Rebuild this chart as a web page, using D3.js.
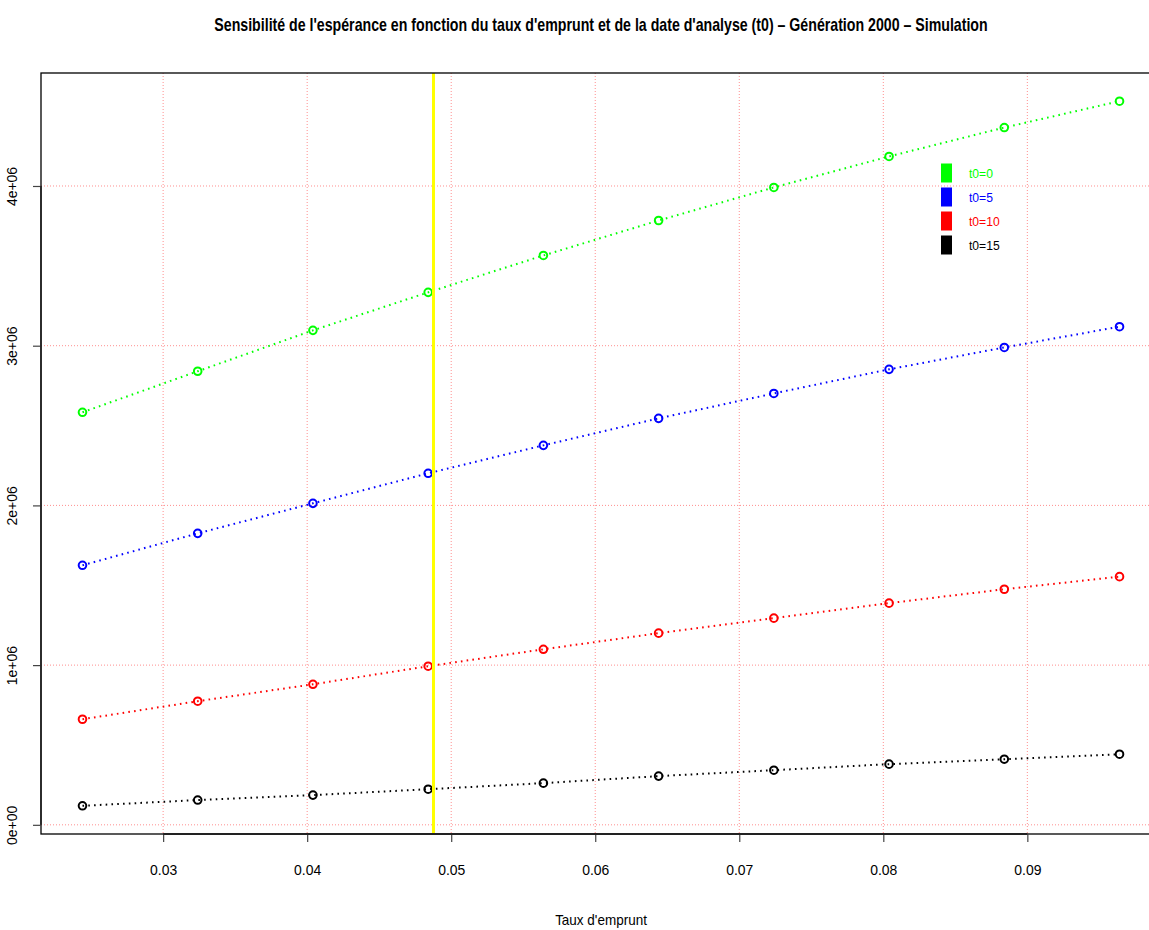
<!DOCTYPE html>
<html><head><meta charset="utf-8">
<script src="https://cdn.jsdelivr.net/npm/d3@7"></script>
<style>
html,body{margin:0;padding:0;background:#fff;}
svg{display:block;}
text{font-family:"Liberation Sans Narrow","Arial Narrow","Liberation Sans",Arial,sans-serif;}
</style></head>
<body>
<svg id="chart" width="1149" height="930"></svg>
<script>
// ---- data ----
const rates = [0.0244, 0.0324, 0.0404, 0.0484, 0.0564, 0.0644, 0.0724, 0.0804, 0.0884, 0.0964];
const seriesNames = ["t0=0", "t0=5", "t0=10", "t0=15"];
const seriesColors = ["#00ff00", "#0000ff", "#ff0000", "#000000"];
const valsT0 = [2583000, 2840000, 3096000, 3334000, 3565000, 3784000, 3991000, 4185000, 4366000, 4531000];
const valsT5 = [1625000, 1825000, 2013000, 2201000, 2376000, 2545000, 2701000, 2852000, 2989000, 3119000];
const valsT10 = [661000, 774000, 880000, 993000, 1099000, 1200000, 1294000, 1388000, 1475000, 1554000];
const valsT15 = [119000, 155000, 186000, 223000, 261000, 305000, 342000, 380000, 411000, 442000];
const refRate = 0.04877;
const xTicks = [0.03, 0.04, 0.05, 0.06, 0.07, 0.08, 0.09];
const yTicks = [0, 1000000, 2000000, 3000000, 4000000];
const yTickLabels = ["0e+00", "1e+06", "2e+06", "3e+06", "4e+06"];
const title = "Sensibilité de l'espérance en fonction du taux d'emprunt et de la date d'analyse (t0) – Génération 2000 – Simulation";
const xLabel = "Taux d'emprunt";

const allSeries = [valsT0, valsT5, valsT10, valsT15];

// ---- layout ----
const svg = d3.select("#chart");
const L = 41, T = 73, B = 834, R = 1161;
const NARROW = 0.9;

function ext(lo, hi){ const d = (hi - lo) * 0.04; return [lo - d, hi + d]; }
const xDom = ext(d3.min(rates), d3.max(rates));
const allVals = allSeries.flat();
const yDom = ext(d3.min(allVals), d3.max(allVals));

const x = d3.scaleLinear().domain(xDom).range([L, R]);
const y = d3.scaleLinear().domain(yDom).range([B, T]);

// grid
const grid = svg.append("g").attr("stroke", "#ff8f8f").attr("stroke-width", 1).attr("stroke-dasharray", "1,2");
grid.selectAll("line.h").data(yTicks).join("line")
  .attr("x1", L).attr("x2", R).attr("y1", d => y(d)).attr("y2", d => y(d));
grid.selectAll("line.v").data(xTicks).join("line")
  .attr("y1", T).attr("y2", B).attr("x1", d => x(d)).attr("x2", d => x(d));

// series lines + points
const line = d3.line().x((d, i) => x(rates[i])).y(d => y(d));
allSeries.forEach((vals, si) => {
  svg.append("path").datum(vals)
    .attr("d", line).attr("fill", "none")
    .attr("stroke", seriesColors[si]).attr("stroke-width", 2)
    .attr("stroke-dasharray", "1.6,4.2");
  svg.append("g").selectAll("circle").data(vals).join("circle")
    .attr("cx", (d, i) => x(rates[i])).attr("cy", d => y(d))
    .attr("r", 3.8).attr("fill", "none")
    .attr("stroke", seriesColors[si]).attr("stroke-width", 2);
});

// yellow reference line
svg.append("line")
  .attr("x1", x(refRate)).attr("x2", x(refRate)).attr("y1", T).attr("y2", B)
  .attr("stroke", "#ffff00").attr("stroke-width", 3);

// box
svg.append("rect").attr("x", L).attr("y", T).attr("width", R - L).attr("height", B - T)
  .attr("fill", "none").attr("stroke", "#000").attr("stroke-width", 1.3);

// x axis
const xAxis = d3.axisBottom(x).tickValues(xTicks).tickSize(8).tickPadding(22)
  .tickFormat(d3.format(".2f"));
const gx = svg.append("g").attr("transform", `translate(0,${B})`).call(xAxis);
gx.select(".domain").remove();
gx.append("line").attr("x1", x(xTicks[0])).attr("x2", x(xTicks[xTicks.length-1]))
  .attr("stroke", "#222").attr("stroke-width", 2);
gx.selectAll(".tick line").attr("stroke", "#444").attr("stroke-width", 1.2);
gx.selectAll(".tick text").attr("font-size", 15.5).attr("fill", "#000")
  .attr("transform", `scale(${NARROW},1)`);

// y axis
const yAxis = d3.axisLeft(y).tickValues(yTicks).tickSize(8).tickFormat((d, i) => yTickLabels[i]);
const gy = svg.append("g").attr("transform", `translate(${L},0)`).call(yAxis);
gy.select(".domain").remove();
gy.append("line").attr("y1", y(yTicks[0])).attr("y2", y(yTicks[yTicks.length-1]))
  .attr("stroke", "#222").attr("stroke-width", 1.6);
gy.selectAll(".tick line").attr("stroke", "#444").attr("stroke-width", 1.2);
gy.selectAll(".tick text")
  .attr("font-size", 15.5).attr("fill", "#000")
  .attr("x", 0).attr("y", 0).attr("dy", null)
  .attr("text-anchor", "middle")
  .attr("transform", `translate(-24,0) rotate(-90) scale(${NARROW},1)`);

// title
svg.append("text").attr("x", 0).attr("y", 0)
  .attr("transform", `translate(${(L + R) / 2},31) scale(0.81,1)`)
  .attr("text-anchor", "middle").attr("font-size", 17.5).attr("font-weight", "bold")
  .text(title);

// x label
svg.append("text").attr("x", 0).attr("y", 0)
  .attr("transform", `translate(${(L + R) / 2},925) scale(${NARROW},1)`)
  .attr("text-anchor", "middle").attr("font-size", 15).text(xLabel);

// legend
const leg = svg.append("g");
seriesNames.forEach((n, i) => {
  const cy = 173 + i * 24;
  leg.append("rect").attr("x", 941).attr("y", cy - 9.5).attr("width", 11).attr("height", 19)
    .attr("fill", seriesColors[i]);
  leg.append("text").attr("x", 0).attr("y", 0)
    .attr("transform", `translate(969,${cy + 5}) scale(${NARROW},1)`)
    .attr("font-size", 13.5)
    .attr("fill", seriesColors[i]).text(n);
});
</script>
</body></html>
